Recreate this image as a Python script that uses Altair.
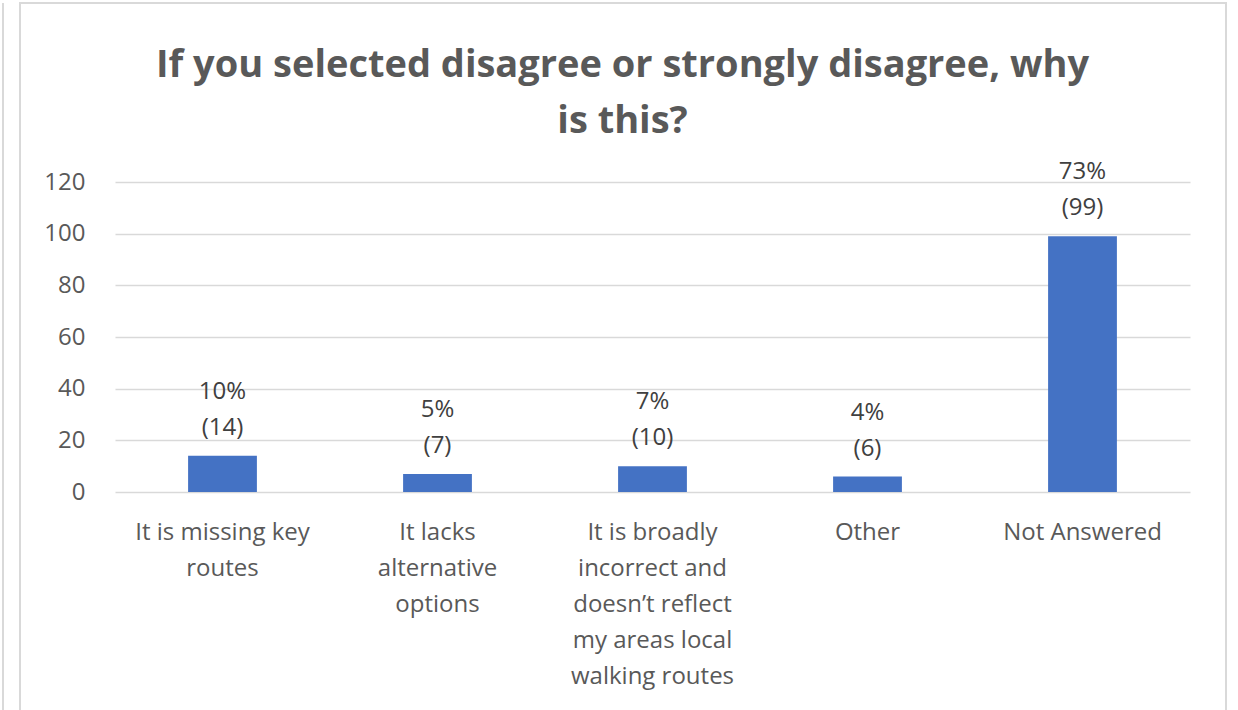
import altair as alt
import pandas as pd

categories = [
    "It is missing key|routes",
    "It lacks|alternative|options",
    "It is broadly|incorrect and|doesn\u2019t reflect|my areas local|walking routes",
    "Other",
    "Not Answered",
]
counts = [14, 7, 10, 6, 99]
percents = [10, 5, 7, 4, 73]

df = pd.DataFrame({"category": categories, "count": counts, "pct": percents})
df["label"] = [f"{p}%\n({c})" for p, c in zip(percents, counts)]

FONT = "Open Sans"
W, H = 1075, 310
FS = 24

x_enc = alt.X(
    "category:N",
    sort=categories,
    scale=alt.Scale(paddingInner=0.68, paddingOuter=0.34),
    axis=alt.Axis(
        title=None,
        labelAngle=0,
        labelExpr="split(datum.label, '|')",
        labelFontSize=FS,
        labelLineHeight=36,
        labelColor="#595959",
        labelFont=FONT,
        labelPadding=28,
        ticks=False,
        domain=False,
        grid=False,
        labelLimit=300,
    ),
)
y_enc = alt.Y(
    "count:Q",
    scale=alt.Scale(domain=[0, 120]),
    axis=alt.Axis(
        title=None,
        values=[0, 20, 40, 60, 80, 100, 120],
        labelFontSize=FS,
        labelColor="#595959",
        labelFont=FONT,
        labelPadding=30,
        ticks=False,
        domain=False,
        gridColor="#d9d9d9",
        gridWidth=1.5,
    ),
)

bars = alt.Chart(df).mark_bar(color="#4472C4").encode(x=x_enc, y=y_enc)
labels = alt.Chart(df).mark_text(
    baseline="bottom", dy=-52, fontSize=FS, lineHeight=36, lineBreak="\n",
    color="#404040", font=FONT
).encode(x=alt.X("category:N", sort=categories), y="count:Q", text="label:N")

border = alt.Chart(pd.DataFrame({"a": [0]})).mark_rect(
    fill=None, stroke="#d9d9d9", strokeWidth=2
).encode(x=alt.value(-95), x2=alt.value(1111), y=alt.value(-179), y2=alt.value(600))
leftline = alt.Chart(pd.DataFrame({"a": [0]})).mark_rule(
    color="#d9d9d9", strokeWidth=2
).encode(x=alt.value(-112), y=alt.value(-179), y2=alt.value(600))

chart = (
    alt.layer(border, leftline, bars, labels)
    .properties(
        width=W,
        height=H,
        padding={"left": 115, "top": 182, "right": 48, "bottom": 218},
        autosize=alt.AutoSizeParams(type="none"),
        title=alt.TitleParams(
            text=["If you selected disagree or strongly disagree, why", "is this?"],
            fontSize=38,
            font=FONT,
            fontWeight="bold",
            color="#595959",
            lineHeight=56,
            anchor="middle",
            dx=-30,
            offset=-139,
        ),
        background="white",
    )
    .configure_view(stroke=None)
)

chart.save("out.html", embed_options={"renderer": "svg", "actions": False})
